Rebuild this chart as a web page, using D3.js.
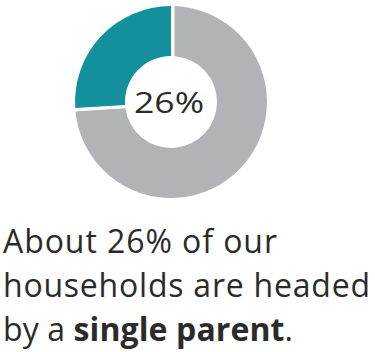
<!DOCTYPE html>
<html>
<head>
<meta charset="utf-8">
<script src="https://cdn.jsdelivr.net/npm/d3@7"></script>
<style>
  html, body { margin: 0; padding: 0; background: #ffffff; }
  svg { display: block; }
  text { font-family: "Open Sans", "Noto Sans", sans-serif; fill: #2b2b2b; }
</style>
</head>
<body>
<svg id="chart" width="375" height="352"></svg>
<script>
// Household composition (share of households, %)
const categories = ["Single-parent households", "Other households"];
const shares = [26, 74];
const colors = ["#14909c", "#b1b3b6"];

// Caption lines; each line is a list of [text, bold] runs
const captionLines = [
  [["About 26% of our", false]],
  [["households are headed", false]],
  [["by a ", false], ["single parent", true], [".", false]]
];
const centerLabel = shares[0] + "%";

const svg = d3.select("#chart");

// Donut geometry
const cx = 171, cy = 102, outerR = 96, innerR = 46;

const pie = d3.pie()
  .sort(null)
  .value(d => d)
  .startAngle(0)
  .endAngle(-2 * Math.PI);

const arcs = pie(shares);

const arc = d3.arc()
  .innerRadius(innerR)
  .outerRadius(outerR)
  .padRadius(100);

const g = svg.append("g").attr("transform", `translate(${cx},${cy})`);

g.selectAll("path")
  .data(arcs)
  .join("path")
  .attr("fill", (d, i) => colors[i])
  // the grey remainder is trimmed at both ends, leaving thin white seams
  .attr("d", (d, i) => arc({ ...d, padAngle: i === 0 ? 0 : 0.07 }));

// Centre value
g.append("text")
  .attr("x", -2)
  .attr("y", 11)
  .attr("text-anchor", "middle")
  .attr("font-size", 30)
  .attr("font-weight", 400)
  .attr("fill", "#222222")
  .attr("textLength", 70)
  .attr("lengthAdjust", "spacingAndGlyphs")
  .text(centerLabel);

// Caption
const lineWidths = [274, 367, 290];
const baselines = [253, 297, 341];

captionLines.forEach((runs, li) => {
  const t = svg.append("text")
    .attr("x", 3)
    .attr("y", baselines[li])
    .attr("font-size", 32);
  runs.forEach(([s, bold]) => {
    t.append("tspan")
      .attr("font-weight", bold ? 700 : 400)
      .text(s);
  });
  t.attr("textLength", lineWidths[li]).attr("lengthAdjust", "spacing");
});
</script>
</body>
</html>
